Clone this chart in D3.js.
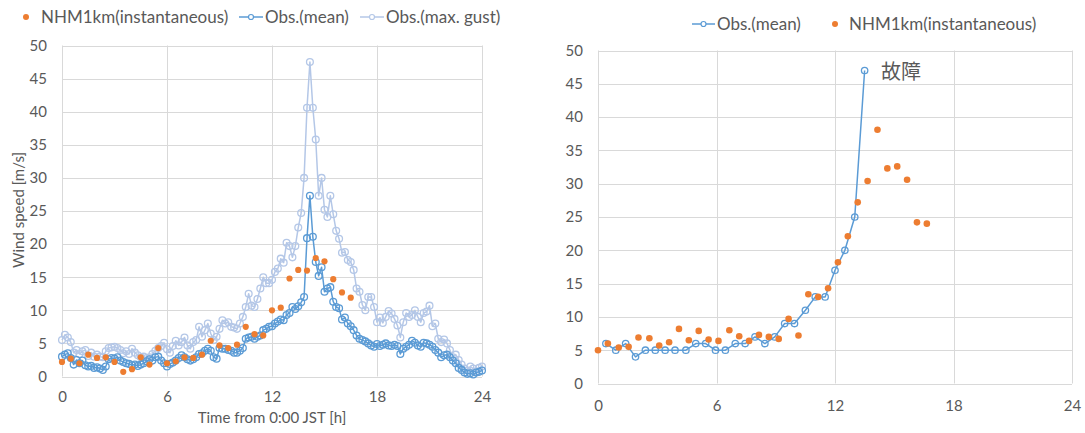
<!DOCTYPE html>
<html>
<head>
<meta charset="utf-8">
<script src="https://cdn.jsdelivr.net/npm/d3@7"></script>
<style>
  html, body { margin: 0; padding: 0; background: #ffffff; }
  svg { display: block; }
  text { font-family: Lato, "Noto Sans", sans-serif; fill: #595959; }
</style>
</head>
<body>
<svg id="chart" width="1085" height="433"></svg>
<script>
// ---- Left panel: full day, 10-minute observations ----
const leftStepsPerHour = 6;
const obsMean = [
  3.0, 3.3, 3.5, 2.8, 1.8, 2.5,
  2.0, 2.4, 1.7, 1.5, 1.6, 1.3,
  1.4, 1.2, 1.0, 1.5, 2.6, 2.8,
  2.7, 2.9, 2.4, 2.2, 2.0, 1.9,
  1.7, 1.8, 1.6, 1.8, 2.0, 2.3,
  2.6, 2.4, 2.9, 3.0, 2.4, 2.0,
  1.5, 1.9, 2.1, 2.4, 2.8, 3.2,
  2.9, 2.6, 2.4, 2.6, 2.9, 3.4,
  3.5, 3.9, 4.2, 3.9, 2.9, 2.7,
  4.3, 4.2, 4.2, 4.0, 3.9, 3.6,
  3.6, 3.9, 4.3, 5.7, 5.9, 6.0,
  5.7, 6.0, 6.2, 7.0, 7.2, 7.5,
  7.6, 8.0, 8.3, 8.6, 8.5, 9.3,
  9.6, 10.5, 10.2, 10.6, 11.2, 12.0,
  20.9, 27.3, 21.1, 17.3, 15.2, 16.5,
  12.8, 13.3, 13.5, 11.3, 10.5, 10.3,
  8.6, 8.9, 8.0, 7.6, 7.0, 6.2,
  5.7, 5.5, 5.3, 5.0, 4.7, 4.5,
  4.9, 4.6, 4.8, 5.0, 4.7, 4.6,
  4.8, 4.6, 3.4, 4.2, 4.5, 4.8,
  5.4, 5.1, 4.7, 4.5, 5.1, 5.0,
  4.8, 4.5, 4.0, 3.6, 2.9, 3.2,
  3.3, 2.9, 2.4, 2.0, 1.3, 1.0,
  0.6, 0.4, 0.5, 0.3, 0.6, 0.7,
  0.9
];
const obsGust = [
  5.5, 6.3, 5.9, 5.2, 3.6, 4.0,
  3.4, 3.8, 4.0, 3.1, 3.6, 3.0,
  3.3, 3.0, 2.9, 3.8, 4.3, 4.4,
  4.5, 4.3, 4.0, 3.5, 3.8, 3.4,
  4.2, 3.6, 3.2, 2.9, 3.0, 2.8,
  2.9, 3.4, 3.9, 4.3, 4.6, 5.1,
  4.1, 3.6, 4.6, 5.4, 4.7, 5.2,
  5.9, 4.7, 4.2, 5.2, 5.5, 7.5,
  6.0, 7.0, 8.0, 6.5, 5.5, 6.0,
  7.2, 8.5, 8.0, 8.2, 7.5, 7.4,
  7.2, 8.0, 9.0, 10.5, 12.5, 10.7,
  10.5, 11.7, 13.3, 15.0, 14.1, 14.1,
  14.6, 15.8, 16.3, 17.8, 17.2, 20.2,
  19.7, 18.0, 19.7, 22.5, 24.7, 30.0,
  40.6, 47.5, 40.6, 35.8, 27.3, 30.0,
  25.2, 24.1, 27.3, 24.5, 22.0, 20.8,
  18.7, 18.8, 17.6, 17.3, 16.1, 13.3,
  12.8, 10.8, 10.0, 12.0, 12.0, 10.5,
  8.2, 8.9, 8.1, 9.0, 9.9, 9.5,
  8.7, 7.7, 5.9, 8.2, 9.6, 9.0,
  9.3, 10.0, 9.0, 8.2, 9.6, 9.8,
  10.7, 7.6, 8.0, 5.7, 5.2, 5.6,
  5.0, 4.0, 2.9, 3.3, 2.5, 1.8,
  1.2, 0.9, 1.5, 1.2, 0.8, 1.3,
  1.5
];
// Model output every 30 minutes (0:00 - 16:30)
const nhmLeftHours = [0, 0.5, 1, 1.5, 2, 2.5, 3, 3.5, 4, 4.5, 5, 5.5, 6, 6.5, 7, 7.5, 8, 8.5,
  9, 9.5, 10, 10.5, 11, 11.5, 12, 12.5, 13, 13.5, 14, 14.5, 15, 15.5, 16, 16.5];
const nhmLeft = [2.2, 2.7, 2.0, 3.3, 2.8, 2.9, 2.2, 0.7, 1.1, 2.9, 1.8, 4.3, 2.0, 2.3, 2.9, 2.8, 3.3, 5.4,
  4.7, 4.3, 4.8, 7.5, 6.4, 6.2, 10.0, 10.4, 14.8, 16.1, 16.0, 17.9, 17.4, 14.7, 12.7, 11.9];

// ---- Right panel ----
const obsRightHours = [0.4, 0.9, 1.4, 1.9, 2.4, 2.9, 3.4, 3.9, 4.45, 4.95, 5.45, 5.95, 6.45, 6.95,
  7.45, 7.95, 8.45, 8.95, 9.45, 9.95, 10.5, 11.0, 11.5, 12.0, 12.5, 13.0, 13.5];
const obsRight = [6, 5, 6, 4, 5, 5, 5, 5, 5, 6, 6, 5, 5, 6, 6, 7, 6, 7, 9, 9, 11, 13, 13, 17, 20, 25, 47];
const nhmRightHours = [0, 0.5, 1.05, 1.55, 2.05, 2.6, 3.1, 3.6, 4.1, 4.6, 5.1, 5.6, 6.1, 6.65, 7.15,
  7.65, 8.15, 8.65, 9.15, 9.65, 10.15, 10.65, 11.15, 11.65, 12.15, 12.65, 13.15, 13.65, 14.15,
  14.65, 15.15, 15.65, 16.15, 16.65];
const nhmRight = [5.0, 6.0, 5.4, 5.5, 6.9, 6.8, 5.7, 6.2, 8.2, 6.5, 7.9, 6.6, 6.4, 8.0, 7.1,
  6.4, 7.3, 7.0, 6.7, 9.7, 7.2, 13.4, 13.0, 14.3, 18.2, 22.1, 27.2, 30.4, 38.1,
  32.3, 32.6, 30.6, 24.2, 24.0];

const xTicks = [0, 6, 12, 18, 24];
const yTicks = [0, 5, 10, 15, 20, 25, 30, 35, 40, 45, 50];
const yTitle = "Wind speed [m/s]";
const xTitle = "Time from 0:00 JST [h]";
const failureNote = "故障";

const COLORS = { mean: "#5b9bd5", gust: "#b4c7e7", nhm: "#ed7d31", grid: "#d9d9d9" };

const svg = d3.select("#chart");

function panel(opts) {
  const g = svg.append("g");
  const x = d3.scaleLinear().domain([0, 24]).range([opts.x0, opts.x1]);
  const y = d3.scaleLinear().domain([0, 50]).range([opts.y0, opts.y1]);

  // grid
  g.append("g").selectAll("line").data(yTicks).join("line")
    .attr("x1", opts.x0).attr("x2", opts.x1)
    .attr("y1", d => Math.round(y(d)) + 0.5).attr("y2", d => Math.round(y(d)) + 0.5)
    .attr("stroke", COLORS.grid).attr("stroke-width", 1);
  g.append("g").selectAll("line").data(xTicks).join("line")
    .attr("y1", opts.y0).attr("y2", opts.y1)
    .attr("x1", d => Math.round(x(d)) + 0.5).attr("x2", d => Math.round(x(d)) + 0.5)
    .attr("stroke", COLORS.grid).attr("stroke-width", 1);

  // axes (labels only; lines come from the grid)
  const ya = d3.axisLeft(y).tickValues(yTicks).tickSize(0).tickPadding(opts.yPad);
  const ga = g.append("g").attr("transform", `translate(${opts.x0},0)`).call(ya);
  ga.select(".domain").remove();
  ga.selectAll("text").attr("font-size", 15).attr("fill", "#595959")
    .style("font-family", "Lato, sans-serif");
  const xa = d3.axisBottom(x).tickValues(xTicks).tickSize(0).tickPadding(opts.xPad);
  const gx = g.append("g").attr("transform", `translate(0,${opts.y0})`).call(xa);
  gx.select(".domain").remove();
  gx.selectAll("text").attr("font-size", 15).attr("fill", "#595959")
    .style("font-family", "Lato, sans-serif");
  return { g, x, y };
}

function drawLine(g, x, y, xs, vs, color, r) {
  const pts = vs.map((v, i) => [xs[i], v]);
  g.append("path").datum(pts)
    .attr("fill", "none").attr("stroke", color).attr("stroke-width", 1.5)
    .attr("stroke-linejoin", "round")
    .attr("d", d3.line().x(d => x(d[0])).y(d => y(d[1])));
  g.append("g").selectAll("circle").data(pts).join("circle")
    .attr("cx", d => x(d[0])).attr("cy", d => y(d[1])).attr("r", r)
    .attr("fill", "none").attr("stroke", color).attr("stroke-width", 1.3);
}

function drawDots(g, x, y, xs, vs, r) {
  g.append("g").selectAll("circle").data(vs.map((v, i) => [xs[i], v])).join("circle")
    .attr("cx", d => x(d[0])).attr("cy", d => y(d[1])).attr("r", r)
    .attr("fill", COLORS.nhm);
}

// ---- left panel ----
const L = panel({ x0: 62, x1: 482, y0: 376.5, y1: 45.5, yPad: 15, xPad: 15 });
const leftTimes = obsMean.map((_, i) => i / leftStepsPerHour);
drawLine(L.g, L.x, L.y, leftTimes, obsGust, COLORS.gust, 3.4);
drawLine(L.g, L.x, L.y, leftTimes, obsMean, COLORS.mean, 3.4);
drawDots(L.g, L.x, L.y, nhmLeftHours, nhmLeft, 3.1);

svg.append("text").attr("transform", "translate(24,210) rotate(-90)")
  .attr("text-anchor", "middle").attr("font-size", 15).text(yTitle);
svg.append("text").attr("x", 272).attr("y", 423)
  .attr("text-anchor", "middle").attr("font-size", 15).text(xTitle);

// left legend
const lg = svg.append("g");
lg.append("circle").attr("cx", 26).attr("cy", 17).attr("r", 3).attr("fill", COLORS.nhm);
lg.append("text").attr("x", 41).attr("y", 23).attr("font-size", 17).text("NHM1km(instantaneous)");
[[239, 263, "Obs.(mean)", COLORS.mean], [360, 384, "Obs.(max. gust)", COLORS.gust]].forEach(([a, b, t, c]) => {
  lg.append("line").attr("x1", a).attr("x2", b).attr("y1", 17).attr("y2", 17)
    .attr("stroke", c).attr("stroke-width", 1.5);
  lg.append("circle").attr("cx", (a + b) / 2).attr("cy", 17).attr("r", 2.5)
    .attr("fill", "#fff").attr("stroke", c).attr("stroke-width", 1.2);
  lg.append("text").attr("x", b + 2).attr("y", 23).attr("font-size", 17).text(t);
});

// ---- right panel ----
const R = panel({ x0: 598, x1: 1072, y0: 383.5, y1: 50.5, yPad: 15, xPad: 17 });
drawLine(R.g, R.x, R.y, obsRightHours, obsRight, COLORS.mean, 3.2);
drawDots(R.g, R.x, R.y, nhmRightHours, nhmRight, 3.3);

svg.append("text").attr("x", 881).attr("y", 79).attr("font-size", 20)
  .style("font-family", "'Noto Sans CJK JP', sans-serif").attr("fill", "#404040")
  .text(failureNote);

// right legend
const rg = svg.append("g");
rg.append("line").attr("x1", 692).attr("x2", 715).attr("y1", 24).attr("y2", 24)
  .attr("stroke", COLORS.mean).attr("stroke-width", 1.5);
rg.append("circle").attr("cx", 703.5).attr("cy", 24).attr("r", 2.5)
  .attr("fill", "#fff").attr("stroke", COLORS.mean).attr("stroke-width", 1.2);
rg.append("text").attr("x", 717).attr("y", 30).attr("font-size", 17).text("Obs.(mean)");
rg.append("circle").attr("cx", 835).attr("cy", 24).attr("r", 3).attr("fill", COLORS.nhm);
rg.append("text").attr("x", 849).attr("y", 30).attr("font-size", 17).text("NHM1km(instantaneous)");
</script>
</body>
</html>
